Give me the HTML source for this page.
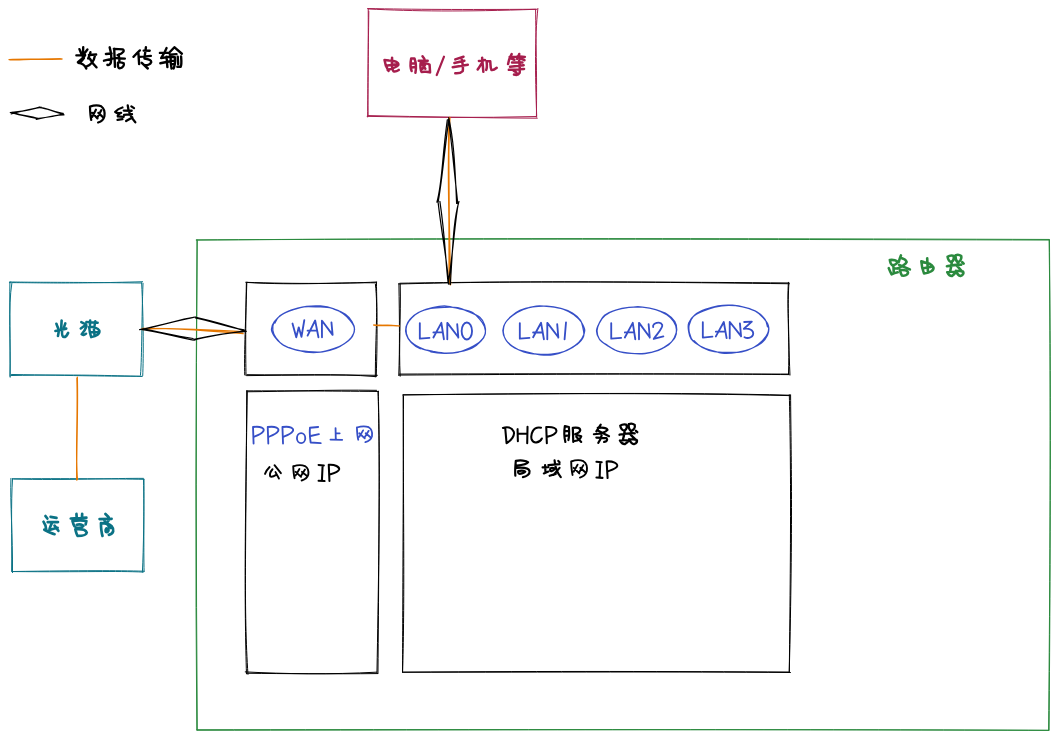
<!DOCTYPE html>
<html><head><meta charset="utf-8"><title>Router diagram</title>
<style>html,body{margin:0;padding:0;background:#fff;width:1059px;height:740px;overflow:hidden;font-family:"Liberation Sans",sans-serif}svg{display:block}</style>
</head><body><svg width="1059" height="740" viewBox="0 0 1059 740"><rect width="1059" height="740" fill="#ffffff"/><path fill="none" stroke="#2b8a3e" stroke-width="1.0" stroke-linecap="round" stroke-linejoin="round" d="M196.25 240.05 C422.22 238.26 648.08 238.23 1048.92 239.45 M196.54 239.95 C422.7 238.67 647.85 239.07 1049.29 240.05 M1049.48 239.72 C1050.35 376.24 1050.63 514.28 1048.57 730.11 M1049.09 239.91 C1050.98 376.51 1050.58 513.5 1049.12 729.95 M1048.74 730.38 C825.34 729.27 601.15 729.72 197.28 730.29 M1048.86 730.31 C824.71 729.62 601.24 729.4 196.79 729.71 M197.3 729.75 C196.05 566.67 195.85 402.96 197.25 240.59 M196.78 730.11 C195.35 566.68 195.84 403.44 197.01 239.86"/><path fill="none" stroke="#a61e4d" stroke-width="1.0" stroke-linecap="round" stroke-linejoin="round" d="M367.58 8.54 C412.92 9.45 462.29 9.73 535.59 9.25 M368.29 8.93 C414.35 11.31 461.98 11.85 536.98 9.25 M537.86 8.48 C534.8 38.93 535.03 70.34 536.69 116.24 M535.61 9.47 C535.84 40.13 537 70.78 536.42 117.19 M537.3 118.2 C481.04 117.92 422.89 116.76 368.13 115.6 M535.71 116.53 C479.17 118.03 422.4 117.35 367.14 116.36 M368.07 115.88 C367.73 87.1 368.18 56.91 368.82 11.18 M367.65 116.97 C367.89 86.91 368.4 57.95 368.23 9.06"/><path fill="none" stroke="#0b7285" stroke-width="1.0" stroke-linecap="round" stroke-linejoin="round" d="M9.37 282.64 C35.52 282.54 66.23 283.88 142.63 281.74 M10.29 281.97 C37.95 282.49 64.87 282.09 141.56 283 M143.02 283.27 C141.56 319.61 142.08 354.69 140.49 375.09 M141.61 282.81 C143.57 319.43 143.53 357.55 142.73 375.58 M141.05 376.2 C111.5 376.36 77.72 375.61 11.46 374.47 M142.26 376.46 C110.47 375.5 77.76 374.36 10.96 375.53 M10.18 377.23 C10.52 340.88 8.13 307.2 11.8 283.48 M9.93 376.32 C10.58 342.51 9.32 308.69 9.91 281.72"/><path fill="none" stroke="#0b7285" stroke-width="1.0" stroke-linecap="round" stroke-linejoin="round" d="M13.69 478.99 C65.7 480.43 114.97 478.14 143.34 478.37 M12.44 478.81 C64.05 478.39 116.95 478.84 143.93 479.33 M144.01 479.3 C143.95 512.31 143.61 548.01 142.41 572.16 M143.48 479.16 C144.3 514.35 143.51 549.31 144.09 571.65 M143.29 572.07 C114.9 570.78 86.77 572.19 12.12 571.56 M144.01 571.22 C115.25 570.44 85.8 570.49 13.01 571.52 M12.49 572.62 C12.85 535.22 9.97 501.91 10.93 478.37 M11.62 571.47 C12.05 537.47 10.8 502.58 12.56 478.63"/><path fill="none" stroke="#000000" stroke-width="1.0" stroke-linecap="round" stroke-linejoin="round" d="M247.45 282.47 C295.2 285.49 345.84 282.18 376.58 282.85 M245.74 282.31 C294.89 283.98 343.55 283.64 376.7 282.03 M375.41 284.35 C378.18 309.51 375.45 331.5 375.33 376.89 M376.43 282.21 C376.88 308.44 377.67 331.96 376.24 376.67 M375.38 376.6 C335.41 373.22 296.38 375.46 246.97 374.67 M377.37 375.31 C336.44 374.83 294.3 375.03 246.68 375.63 M244.75 374.92 C244.15 353.76 245.2 333.12 246.83 282.13 M246 375.48 C245.64 353.99 245.45 332.93 246.37 282.88"/><path fill="none" stroke="#000000" stroke-width="1.0" stroke-linecap="round" stroke-linejoin="round" d="M398.76 284 C492.05 281.41 585.69 281.17 789.21 283.75 M399.95 283.25 C492.59 281.66 585.07 281.31 789.06 282.98 M788.42 282.32 C786.75 305.46 789.9 325.48 788.5 374.18 M788.87 283.34 C787.73 303.99 787.94 325.72 789.96 375.08 M788.93 374.07 C691.93 374.07 595.22 373.44 399.51 374.08 M788.98 374.62 C692.09 373.6 594.66 373.9 399.25 375.08 M400.19 376.21 C398.6 346.29 400.98 317.57 400.22 283.86 M398.77 375.54 C399.82 347.24 399.51 319.59 398.92 283.44"/><path fill="none" stroke="#000000" stroke-width="1.0" stroke-linecap="round" stroke-linejoin="round" d="M247.84 391.77 C287.85 391.43 326.52 389.62 376.5 390.33 M246.58 390.87 C286.95 390.82 326 390.95 378.29 391.48 M378.01 391.59 C379.77 446.72 380 503.84 376.96 672.73 M378.28 391.14 C379.65 448.77 379.27 504.41 377.97 673.52 M376.65 672.17 C330.65 674.65 284.49 673.95 245.24 671.89 M377.63 673.58 C332.02 674.03 284.85 673.71 246.74 673.25 M247.97 674.37 C243.63 610.14 246.08 548.65 246.68 390.93 M246.45 673.84 C244.66 610.39 244.56 547.26 247.35 391.05"/><path fill="none" stroke="#000000" stroke-width="1.0" stroke-linecap="round" stroke-linejoin="round" d="M403.38 394.79 C544.68 393.51 683.36 392.37 789.58 395.21 M402.81 394.96 C543.56 393.32 684.88 392.95 789.84 395.62 M790.59 394.78 C791.03 456.91 792.96 519.45 789.26 671.62 M789.32 394.74 C790.81 457.76 791.09 519.85 789.29 671.51 M790.46 672.52 C673.51 671.53 556.92 672.26 403.09 672.21 M789.18 672.02 C672.71 671.52 556.11 670.97 402.57 672.2 M402.5 672.39 C404.59 608.72 403.6 546.5 403.14 395.04 M402.59 671.38 C402.67 610.09 403.11 546.69 403.5 395.91"/><path fill="none" stroke="#e67700" stroke-width="1.3" stroke-linecap="round" stroke-linejoin="round" d="M8.99 59.59 C23.32 58.82 38.64 59.59 62.04 59 M10.16 59.96 C25.01 59.61 39.28 58.43 60.44 58.95"/><path fill="none" stroke="#e67700" stroke-width="1.6" stroke-linecap="round" stroke-linejoin="round" d="M449.76 117.59 C447.79 154.67 448.39 192.64 450.45 284.72 M449.2 117.73 C447.77 156.09 449.58 192.8 449.14 282.8"/><path fill="none" stroke="#e67700" stroke-width="1.3" stroke-linecap="round" stroke-linejoin="round" d="M142.94 329.71 C168.88 327.09 196.56 329.86 243.18 333.61 M142.15 328.44 C170.42 328.57 198.04 328.85 243.05 331.77"/><path fill="none" stroke="#e67700" stroke-width="1.3" stroke-linecap="round" stroke-linejoin="round" d="M373.71 325.01 C384.55 326.65 391.55 324.1 398.68 325.97 M374.72 325.36 C384.2 324.88 392.7 325.74 399.33 325.93"/><path fill="none" stroke="#e67700" stroke-width="1.3" stroke-linecap="round" stroke-linejoin="round" d="M76.89 378.27 C78.17 414.83 75.13 454.4 77.46 479.54 M77.31 377.07 C78.2 415.06 76.11 454.08 76.77 480.09"/><path fill="none" stroke="#000000" stroke-width="1.2" stroke-linecap="round" stroke-linejoin="round" d="M448.72 117.56 C453.19 137.86 454.7 157.68 456.61 203.43 M448.37 119.22 C451.3 137.98 452.86 158.6 457.76 203.32 M459.02 201.45 C453.61 219.39 453.05 241.33 450.33 284.44 M458.3 203.29 C455.06 220.52 454.35 240.23 448.35 283.96 M448.04 282.11 C445.47 260.65 445.23 237.33 439.89 201.46 M448.87 284.21 C447 261.11 442.5 238.78 438.2 203.07 M436.9 202.11 C442.33 183.37 441.71 160.42 447.3 119.84 M438.01 202.8 C441.88 181.98 443.09 163.2 448.89 118.12"/><path fill="none" stroke="#000000" stroke-width="1.2" stroke-linecap="round" stroke-linejoin="round" d="M139.61 329.62 C161.21 325.7 179.61 319.38 193.65 317.42 M141.93 329.53 C159.31 324.66 177.7 321.27 195.18 316.99 M195.37 317.84 C212.26 321.24 230.78 327.89 244.15 329.83 M194.9 317.1 C212.08 321.03 231.44 326.41 246.27 331.41 M244.21 330.8 C225.78 333.66 203.37 337.04 194.28 340.16 M245.9 331.36 C225.27 333.11 205.11 336.96 194.01 339.4 M193.09 338.49 C177.18 335.89 156.63 331.41 142.78 328.82 M193.47 340.09 C175.95 336.56 156.53 331.77 141.71 329.34"/><path fill="none" stroke="#000000" stroke-width="1.2" stroke-linecap="round" stroke-linejoin="round" d="M10.28 112.51 C24.36 111.54 35.1 108.28 41.17 107.04 M11.12 113.94 C23.36 110.42 33.57 109.03 39.55 106.99 M40.32 107.69 C44.14 106.91 50 111.13 62.49 113.4 M39.53 107.67 C45.42 107.99 49.89 110.21 63.58 114.22 M63.21 113.31 C56.91 116.96 51.15 116.46 36.54 118.53 M64.08 114.79 C57.41 114.55 52.36 115.61 36.21 119.44 M38.23 118.67 C28.36 115.3 22.65 116.3 12.81 112.18 M37.2 118.59 C29.71 116.53 22.01 115.78 12.18 112.87"/><path fill="none" stroke="#364fc7" stroke-width="1.25" stroke-linecap="round" d="M274.85 323.11 C276.15 320.7 277.24 318 279.94 315.84 C282.64 313.69 287.15 311.7 291.05 310.18 C294.94 308.67 298.84 307.32 303.29 306.77 C307.75 306.22 313.06 306.65 317.77 306.88 C322.48 307.11 327.35 307.06 331.54 308.14 C335.72 309.22 339.79 311.32 342.88 313.36 C345.96 315.4 348.13 317.96 350.05 320.38 C351.98 322.79 354 325.24 354.41 327.86 C354.82 330.48 353.98 333.62 352.53 336.1 C351.08 338.58 348.5 340.68 345.7 342.74 C342.9 344.79 339.57 346.93 335.74 348.43 C331.9 349.94 327.23 351.24 322.69 351.77 C318.14 352.3 313.11 351.97 308.46 351.62 C303.81 351.27 298.95 350.73 294.76 349.65 C290.57 348.57 286.45 347.1 283.33 345.14 C280.21 343.18 277.79 340.4 276.04 337.91 C274.29 335.42 273.16 332.83 272.83 330.22 C272.49 327.62 272.85 324.72 274 322.28 M333.93 309.08 C338.18 310.38 342.43 312.29 345.43 314.37 C348.43 316.46 350.43 319.08 351.96 321.6 C353.48 324.12 354.64 326.9 354.55 329.51 C354.47 332.13 353.22 334.89 351.45 337.29 C349.69 339.69 346.91 342.02 343.97 343.92 C341.02 345.81 337.74 347.29 333.77 348.66 C329.8 350.03 324.83 351.57 320.16 352.13 C315.49 352.7 310.36 352.61 305.76 352.04 C301.17 351.48 296.55 350.08 292.58 348.76 C288.61 347.45 284.92 346.14 281.94 344.16 C278.97 342.18 276.48 339.36 274.72 336.88 C272.97 334.39 271.49 331.79 271.42 329.25 C271.36 326.7 272.61 324.03 274.34 321.61 C276.06 319.18 278.59 316.69 281.76 314.71 C284.94 312.72 289.3 311.08 293.39 309.71 C297.48 308.34 301.8 307.08 306.31 306.46 C310.83 305.84 315.9 305.6 320.48 305.99 C325.07 306.38 329.83 307.38 333.84 308.8"/><path fill="none" stroke="#364fc7" stroke-width="1.25" stroke-linecap="round" d="M430.62 351.45 C426.38 350.41 422.64 348.93 419.3 347.27 C415.96 345.6 412.72 343.75 410.58 341.47 C408.43 339.19 407.06 336.27 406.41 333.59 C405.77 330.91 405.82 328.02 406.72 325.4 C407.62 322.78 409.51 320.17 411.8 317.86 C414.1 315.55 417.03 313.24 420.47 311.51 C423.92 309.79 428.24 308.44 432.5 307.53 C436.76 306.61 441.5 305.78 446.02 306.02 C450.54 306.25 455.32 307.93 459.61 308.94 C463.89 309.96 468.4 310.42 471.73 312.11 C475.05 313.8 477.45 316.69 479.56 319.08 C481.68 321.48 483.5 323.9 484.43 326.46 C485.35 329.02 485.93 331.8 485.1 334.45 C484.26 337.1 481.95 340.11 479.4 342.33 C476.85 344.55 473.42 346.09 469.81 347.77 C466.21 349.44 462.06 351.41 457.77 352.36 C453.48 353.31 448.58 353.54 444.09 353.46 C439.59 353.39 435.08 352.9 430.81 351.91 M420.2 348.77 C416.49 347.21 413.55 345.01 411.24 342.63 C408.92 340.25 407.17 337.15 406.31 334.48 C405.44 331.81 405.42 329.17 406.05 326.62 C406.68 324.07 408.03 321.54 410.08 319.19 C412.14 316.85 414.93 314.34 418.37 312.55 C421.82 310.77 426.47 309.33 430.76 308.46 C435.05 307.58 439.6 307.43 444.11 307.3 C448.61 307.18 453.59 306.93 457.8 307.72 C462 308.5 465.68 310.43 469.35 312.03 C473.02 313.64 477.26 315.18 479.8 317.33 C482.34 319.47 483.67 322.22 484.6 324.91 C485.52 327.61 485.96 330.8 485.35 333.49 C484.74 336.17 483.11 338.63 480.94 341.02 C478.77 343.42 475.78 346.1 472.33 347.86 C468.89 349.63 464.58 350.73 460.25 351.62 C455.93 352.51 450.84 353.23 446.38 353.21 C441.92 353.18 437.74 352.3 433.51 351.49 C429.27 350.68 424.62 349.94 420.95 348.33"/><path fill="none" stroke="#364fc7" stroke-width="1.25" stroke-linecap="round" d="M576.73 344.64 C574.03 346.9 570.73 348.89 566.92 350.55 C563.1 352.22 558.27 353.93 553.83 354.63 C549.39 355.34 544.86 355.25 540.26 354.79 C535.66 354.34 530.51 353.02 526.24 351.89 C521.97 350.77 517.96 349.89 514.64 348.03 C511.33 346.17 508.21 343.28 506.33 340.74 C504.46 338.2 503.67 335.54 503.38 332.79 C503.09 330.04 503.38 326.92 504.6 324.23 C505.82 321.54 508.13 318.98 510.68 316.66 C513.23 314.33 516.22 311.91 519.9 310.28 C523.59 308.65 528.33 307.57 532.8 306.87 C537.26 306.18 542 305.85 546.68 306.11 C551.35 306.36 556.53 307.27 560.83 308.41 C565.13 309.55 569.19 310.96 572.47 312.95 C575.75 314.94 578.74 317.8 580.5 320.34 C582.26 322.87 582.51 325.48 583.01 328.17 C583.51 330.86 584.56 333.71 583.51 336.46 C582.47 339.21 579.58 342.41 576.74 344.67 M574.16 314.88 C577.06 316.95 579.27 319.17 581.04 321.77 C582.8 324.37 584.59 327.7 584.72 330.5 C584.86 333.3 583.48 336.05 581.86 338.56 C580.24 341.07 577.99 343.39 575.03 345.55 C572.06 347.71 568.05 350.08 564.07 351.52 C560.1 352.96 555.66 353.73 551.18 354.16 C546.69 354.6 541.76 354.53 537.17 354.14 C532.57 353.75 527.71 353.13 523.59 351.83 C519.47 350.53 515.47 348.43 512.45 346.33 C509.43 344.23 507.07 341.89 505.47 339.24 C503.87 336.6 502.82 333.26 502.83 330.47 C502.84 327.67 503.91 324.97 505.53 322.49 C507.16 320.01 509.71 317.74 512.59 315.6 C515.48 313.45 518.89 311.21 522.84 309.63 C526.79 308.06 531.78 306.62 536.29 306.14 C540.8 305.65 545.39 306.21 549.88 306.72 C554.37 307.23 559.14 307.79 563.21 309.19 C567.29 310.58 571.34 312.98 574.35 315.09"/><path fill="none" stroke="#364fc7" stroke-width="1.25" stroke-linecap="round" d="M599.3 339 C597.73 336.41 597.02 333.43 597.01 330.79 C597.01 328.15 597.93 325.69 599.27 323.15 C600.6 320.61 602.32 317.71 605.02 315.56 C607.71 313.4 611.46 311.57 615.43 310.23 C619.41 308.89 624.35 308.02 628.89 307.5 C633.43 306.98 638.21 306.75 642.66 307.11 C647.11 307.47 651.46 308.45 655.6 309.67 C659.74 310.89 664.3 312.46 667.5 314.43 C670.71 316.4 673.28 318.94 674.83 321.47 C676.37 324 676.85 326.9 676.76 329.61 C676.67 332.32 675.62 335.2 674.28 337.73 C672.94 340.25 671.46 342.66 668.71 344.76 C665.96 346.86 661.75 348.85 657.81 350.32 C653.87 351.79 649.48 353.05 645.05 353.57 C640.61 354.1 635.72 353.86 631.18 353.48 C626.64 353.09 621.77 352.62 617.8 351.26 C613.83 349.9 610.44 347.37 607.36 345.33 C604.29 343.29 601.05 341.43 599.37 339.03 M642.49 307.18 C646.99 307.55 651.69 308.31 655.74 309.56 C659.79 310.81 663.82 312.74 666.79 314.7 C669.76 316.66 671.96 318.86 673.56 321.32 C675.17 323.77 676.19 326.72 676.43 329.41 C676.67 332.09 676.45 334.86 675.02 337.44 C673.59 340.02 670.64 342.7 667.86 344.86 C665.09 347.02 662.17 348.98 658.36 350.39 C654.55 351.81 649.52 352.84 645.01 353.35 C640.51 353.86 635.91 353.82 631.35 353.46 C626.8 353.09 621.63 352.46 617.66 351.15 C613.69 349.85 610.54 347.62 607.52 345.63 C604.5 343.65 601.35 341.7 599.52 339.26 C597.68 336.81 596.52 333.71 596.51 330.97 C596.5 328.23 598.11 325.43 599.46 322.81 C600.8 320.2 601.87 317.41 604.59 315.29 C607.31 313.17 611.72 311.4 615.78 310.08 C619.84 308.76 624.51 307.88 628.94 307.38 C633.36 306.88 637.85 306.7 642.33 307.06"/><path fill="none" stroke="#364fc7" stroke-width="1.25" stroke-linecap="round" d="M693.19 341.21 C691.09 338.86 690.16 335.75 689.49 333.09 C688.82 330.42 688.52 327.96 689.15 325.22 C689.77 322.48 690.95 318.97 693.24 316.64 C695.52 314.3 699.3 312.81 702.87 311.23 C706.44 309.64 710.42 308.11 714.67 307.13 C718.92 306.15 723.71 305.38 728.37 305.34 C733.03 305.29 738.2 305.9 742.65 306.84 C747.09 307.78 751.64 309.2 755.04 310.98 C758.43 312.76 760.8 315.13 763.01 317.54 C765.22 319.95 767.49 322.82 768.28 325.43 C769.07 328.04 768.7 330.69 767.73 333.22 C766.76 335.76 764.8 338.28 762.44 340.64 C760.08 343.01 757.01 345.56 753.57 347.43 C750.12 349.29 745.99 350.99 741.77 351.82 C737.55 352.65 732.82 352.42 728.25 352.4 C723.67 352.39 718.66 352.54 714.33 351.72 C710.01 350.9 705.66 349.31 702.27 347.48 C698.89 345.65 696.15 343.13 694.02 340.74 M768.66 326.79 C769.08 329.47 768.71 332.61 767.51 335.32 C766.31 338.03 764.14 340.85 761.46 343.04 C758.78 345.24 755.25 346.95 751.4 348.46 C747.56 349.98 742.9 351.29 738.39 352.11 C733.88 352.93 728.88 353.66 724.35 353.37 C719.81 353.07 715.21 351.58 711.17 350.35 C707.12 349.11 703.41 347.85 700.08 345.96 C696.75 344.07 693.11 341.47 691.21 339 C689.3 336.53 689.04 333.81 688.62 331.13 C688.21 328.45 687.65 325.64 688.72 322.91 C689.79 320.18 692.29 317.01 695.04 314.76 C697.79 312.52 701.39 310.92 705.22 309.43 C709.06 307.94 713.51 306.52 718.04 305.81 C722.57 305.11 727.8 304.91 732.41 305.22 C737.02 305.52 741.56 306.5 745.69 307.65 C749.81 308.79 753.92 310.13 757.15 312.08 C760.37 314.02 763.32 316.85 765.04 319.31 C766.76 321.77 767.01 324.11 767.47 326.83"/><path fill="none" stroke="#000000" stroke-width="2.4" stroke-linecap="round" stroke-linejoin="round" d="M 79.42 49.13 L 81.32 53.78 M 83.22 47.19 L 82.84 56.49 M 87.4 49.51 L 84.36 53.39 M 76.38 55.33 L 85.12 54.94 M 85.12 55.33 C 82.84 58.43 79.42 61.15 77.9 62.31 M 83.98 58.04 C 81.32 61.53 79.42 63.86 78.28 62.7 C 81.32 63.08 85.12 65.41 86.26 68.51 M 90.44 52.23 C 89.68 55.33 88.92 56.88 88.16 58.43 M 88.92 54.94 L 96.14 54.55 M 95 55.33 C 94.24 59.98 91.58 64.64 86.26 66.57 M 89.68 58.43 C 91.58 61.92 93.86 65.02 96.52 67.35"/><path fill="none" stroke="#000000" stroke-width="2.4" stroke-linecap="round" stroke-linejoin="round" d="M 105.87 54 L 111.56 53.48 M 109.66 47.31 C 111.18 52.45 111.56 59.13 110.8 62.73 C 110.04 64.79 108.53 65.3 107.39 64.79 M 103.98 60.68 L 112.69 58.62 M 113.83 48.86 L 122.93 49.37 C 124.44 50.4 124.06 52.97 117.62 55.02 M 114.21 48.86 L 114.97 66.84 M 116.11 58.11 L 124.82 58.62 M 118.76 54.51 L 119.52 62.22 M 118 62.73 C 117.62 66.33 118.38 68.39 119.52 68.39 C 122.93 67.87 124.44 65.3 123.68 63.25 C 121.41 62.22 119.52 62.22 118 62.73"/><path fill="none" stroke="#000000" stroke-width="2.4" stroke-linecap="round" stroke-linejoin="round" d="M 139.9 50.42 C 137.63 52.43 135.37 54.84 133.48 56.85 M 138.39 52.83 L 139.14 64.08 M 143.67 50.62 L 149.71 50.82 M 145.94 47.2 L 144.43 58.05 M 139.52 56.85 L 150.84 55.84 M 144.43 58.45 C 147.82 58.85 151.22 60.06 151.22 62.07 C 150.47 64.48 146.69 65.28 145.18 65.28 M 141.78 62.87 L 147.82 68.5"/><path fill="none" stroke="#000000" stroke-width="2.4" stroke-linecap="round" stroke-linejoin="round" d="M 159.91 52.87 L 169.45 52.65 M 166.55 48.1 C 164.89 52.43 161.99 56.77 161.16 58.07 L 169.86 56.77 M 166.55 56.77 L 167.38 67.17 M 160.33 63.27 L 169.03 61.53 M 174.42 47.23 C 172.35 49.4 170.69 51.13 169.86 52 M 174.84 47.67 L 181.89 53.73 M 169.86 54.6 L 176.5 54.17 M 170.69 56.77 C 170.28 61.1 170.69 64.13 171.52 68.47 M 170.69 56.77 L 174.84 57.2 C 175.25 61.97 174.84 65.87 173.59 68.47 M 171.11 60.67 L 174.84 61.1 M 171.11 64.13 L 174.84 64.13 M 177.74 56.77 L 178.15 64.13 M 181.06 56.33 C 181.47 61.53 181.89 65 180.64 66.73 L 177.33 66.73"/><path fill="none" stroke="#000000" stroke-width="2.2" stroke-linecap="round" stroke-linejoin="round" d="M 89.98 106.64 C 90.12 111.88 90.56 116.8 91.28 119.91 M 89.98 106.64 C 93.45 105.33 98.36 105 101.25 106.31 C 104.14 108.28 105.01 111.88 104.43 116.14 C 103.57 119.75 100.67 121.72 98.07 122.54 M 95.9 109.75 L 92.29 116.8 M 92.29 112.87 L 97.49 118.44 M 101.25 110.24 L 97.21 117.78 M 98.36 112.87 L 103.57 117.78"/><path fill="none" stroke="#000000" stroke-width="2.3" stroke-linecap="round" stroke-linejoin="round" d="M 122.44 107.49 C 119.47 108.31 116.5 110.26 115.18 111.89 C 116.5 113.2 118.15 113.52 121.12 112.87 M 120.79 112.87 C 118.81 113.85 117.49 115.15 117.82 116.46 L 123.76 116.78 M 117.49 119.88 L 122.44 119.23 M 123.76 110.59 L 131.69 110.75 M 124.09 114.83 L 132.02 114.18 M 127.73 105.38 C 128.06 109.61 129.05 115.15 135.32 122.32 M 132.35 117.44 L 126.08 121.02 M 131.36 106.35 L 134 108.15"/><path fill="none" stroke="#a61e4d" stroke-width="2.5" stroke-linecap="round" stroke-linejoin="round" d="M 384.5 59.97 C 384.94 64.5 386.73 68.12 388.52 70.84 M 384.5 59.97 L 388.97 60.42 C 394.33 60.42 398.8 62.23 398.36 64.95 C 397.01 67.22 394.33 68.12 387.63 69.94 M 385.84 65.86 L 398.36 64.05 M 392.1 57.7 C 391.65 63.59 391.65 69.03 393.44 71.3 C 395.23 71.75 397.46 70.84 398.8 69.94"/><path fill="none" stroke="#a61e4d" stroke-width="2.5" stroke-linecap="round" stroke-linejoin="round" d="M 411.17 58.44 C 410.22 63.38 410.7 68.76 411.64 71.01 M 411.17 58.44 L 414.48 58.44 C 415.9 62.48 416.37 67.87 415.42 72.8 M 411.64 63.38 L 414.95 63.38 M 411.64 67.42 L 415.42 66.97 M 422.51 56.2 L 424.4 58.89 M 418.73 60.69 L 427.71 60.69 M 420.62 62.93 C 420.15 66.97 420.62 70.11 421.57 71.9 C 425.35 71.9 428.19 71.46 430.08 72.35 M 420.62 62.93 C 425.35 62.93 428.19 63.38 429.6 64.72 L 430.08 72.35 M 422.51 64.72 L 425.35 68.76 M 425.35 64.28 L 422.51 68.76"/><path fill="none" stroke="#a61e4d" stroke-width="2.5" stroke-linecap="round" stroke-linejoin="round" d="M 455.28 59.43 L 463.49 56.7 M 454.41 63.07 L 464.36 60.8 M 452.68 67.16 L 467.82 64.66 M 461.76 58.98 C 462.63 63.52 463.49 68.98 462.63 71.25 C 460.9 73.07 457.87 73.52 455.28 73.3"/><path fill="none" stroke="#a61e4d" stroke-width="2.5" stroke-linecap="round" stroke-linejoin="round" d="M 478.87 60.89 L 484.97 59.98 M 482.12 57.7 L 483.34 71.8 M 482.53 61.8 C 480.91 64.52 479.28 67.25 477.66 69.52 M 486.59 61.34 C 487 64.52 487 68.16 486.18 69.98 M 486.59 61.34 L 490.25 61.34 C 490.65 64.98 490.25 68.16 491.46 69.98 C 493.09 70.43 495.12 69.07 496.74 67.7"/><path fill="none" stroke="#a61e4d" stroke-width="2.5" stroke-linecap="round" stroke-linejoin="round" d="M 511.65 54.02 C 509.65 57.5 508.45 60.59 508.05 64.06 M 509.65 57.11 L 516.05 56.92 M 510.85 58.27 L 514.45 59.82 M 519.25 54.02 L 517.25 59.04 M 517.65 56.34 L 524.85 56.92 M 520.05 58.27 L 524.45 60.2 M 512.05 62.52 L 522.45 62.52 M 519.25 60.59 C 519.65 65.99 520.05 69.86 519.65 72.95 C 518.45 74.88 516.45 75.26 514.05 74.49 M 510.05 66.77 L 523.65 65.22 M 508.85 69.86 L 524.05 68.89 M 513.65 70.63 L 516.45 72.56"/><path fill="none" stroke="#a61e4d" stroke-width="2.2" stroke-linecap="round" d="M444 56.7 L436.7 75.1"/><path fill="none" stroke="#2b8a3e" stroke-width="2.6" stroke-linecap="round" stroke-linejoin="round" d="M 889.83 259.95 C 890.19 262.83 890.9 264.47 892.33 265.29 M 889.83 259.95 C 893.4 259.54 896.98 260.36 897.33 262 C 896.98 263.65 894.83 264.88 892.33 265.29 M 893.4 265.29 L 893.76 272.7 M 894.48 268.17 L 897.33 268.58 M 888.76 268.17 C 889.83 271.05 890.9 273.11 891.62 274.34 C 893.4 273.52 895.9 272.7 897.69 272.29 M 900.91 255.42 C 899.84 257.89 899.12 260.36 898.76 262 M 901.27 257.89 C 904.12 258.71 906.27 260.36 906.63 262 C 905.55 264.47 902.7 266.12 898.41 268.17 M 899.12 264.88 L 909.84 269.41 M 899.84 269.82 C 900.55 272.7 901.27 274.75 901.98 275.58 C 904.84 275.99 907.7 274.75 908.06 272.7 C 908.06 270.64 904.12 269.82 899.84 269.82"/><path fill="none" stroke="#2b8a3e" stroke-width="2.6" stroke-linecap="round" stroke-linejoin="round" d="M 921.29 261.23 C 921.64 265.81 922.33 269.62 924.06 273.44 M 921.29 261.23 L 923.72 262 M 923.72 262.38 C 927.87 262.76 931.68 264.28 933.41 267.33 C 934.1 270.39 930.29 272.67 924.06 273.44 M 927.18 258.18 L 927.87 271.15 M 922.68 268.48 C 926.14 267.72 928.91 266.95 930.98 266.95"/><path fill="none" stroke="#2b8a3e" stroke-width="2.6" stroke-linecap="round" stroke-linejoin="round" d="M 947.64 256.86 C 947.99 259.49 949.72 261.74 951.46 262.12 C 953.89 260.24 954.24 257.61 953.19 255.73 C 951.46 255.35 949.03 255.73 947.64 256.86 M 955.62 255.35 C 955.28 258.73 955.97 260.99 957.71 262.49 C 960.14 261.37 961.87 258.73 961.18 256.1 C 959.44 254.6 957.01 254.6 955.62 255.35 M 962.22 262.12 L 963.61 263.62 M 946.95 266.25 C 952.5 265.12 957.71 264.37 961.18 264.75 M 951.81 261.74 C 951.46 265.5 950.76 269.26 950.07 271.51 M 957.36 266.25 C 959.44 268.51 961.52 270.76 962.56 272.27 M 947.29 272.27 C 948.34 274.52 950.07 276.02 951.81 276.02 C 954.24 274.52 955.28 273.02 955.62 272.27 C 952.5 271.51 949.38 271.7 947.29 272.27 M 955.97 270.76 C 957.01 273.77 958.4 275.65 960.48 276.02 C 963.26 275.27 963.95 273.02 962.91 271.51 C 960.48 270.76 957.71 270.76 955.97 270.76"/><path fill="none" stroke="#0b7285" stroke-width="2.6" stroke-linecap="round" stroke-linejoin="round" d="M 56.37 323.71 C 57.01 325.82 57.65 327.22 58.29 328.62 M 61.63 320.55 L 61.15 328.98 M 65.3 323.36 L 63.86 327.57 M 55.42 330.91 L 66.25 328.62 M 58.92 329.68 C 58.76 332.13 58.29 334.24 57.97 336 M 62.11 330.03 C 61.79 333.54 62.11 336.7 64.02 337.05 C 65.61 337.05 67.21 334.94 68.16 332.84"/><path fill="none" stroke="#0b7285" stroke-width="2.5" stroke-linecap="round" stroke-linejoin="round" d="M 81.27 322.02 L 86.22 324.56 L 80.76 328.46 M 86.57 326.26 C 85.37 329.65 83.32 332.36 81.62 334.23 C 82.64 335.41 84.69 335.08 86.05 333.72 M 86.39 322.02 L 97.66 322.69 M 90.15 320.49 L 89.98 325.24 M 95.27 321.17 L 94.59 325.58 M 89.13 326.93 C 89.47 330.67 90.15 334.4 91.17 337.11 M 89.13 326.93 C 92.88 326.6 98 327.95 99.37 330.67 C 100.05 333.72 96.64 336.09 91.17 337.11 M 93.91 328.97 L 94.59 336.09 M 90.15 332.02 L 98.68 332.36"/><path fill="none" stroke="#0b7285" stroke-width="2.7" stroke-linecap="round" stroke-linejoin="round" d="M 45.43 515.99 L 47.34 518.57 M 50.57 516.85 L 56.47 517.92 M 47.72 522.21 L 57.99 522.13 M 43.53 521.78 C 45.05 523.93 46.19 526.93 46.19 529.5 M 44.29 529.72 C 48.1 531.65 51.52 533.36 54.56 534.22 M 51.9 523.07 C 50.76 525.64 49.62 528.22 49.43 529.93 C 52.66 529.07 55.71 528.22 57.61 527.79 M 54.56 525.64 L 58.37 530.79"/><path fill="none" stroke="#0b7285" stroke-width="2.7" stroke-linecap="round" stroke-linejoin="round" d="M 70.75 518.52 L 86.39 517.7 M 76.47 513.96 L 76.85 520.6 M 82.19 513.96 L 81.81 519.35 M 72.47 520.8 C 73.04 523.08 73.8 525.16 74.56 526.4 M 72.47 520.8 C 79.14 520.18 84.86 520.6 86.39 521.01 L 85.62 524.33 M 76.85 524.74 C 79.9 523.91 82.95 524.74 83.34 525.99 C 82.19 527.64 79.14 528.06 76.28 527.64 M 75.33 529.3 C 76.09 532.62 76.85 535.11 77.62 535.94 M 75.33 529.3 C 81.05 528.89 86.01 530.13 86.77 532.62 C 86.39 534.69 82.19 535.94 77.62 535.94"/><path fill="none" stroke="#0b7285" stroke-width="2.7" stroke-linecap="round" stroke-linejoin="round" d="M 105.43 513.93 L 108.52 516.97 M 99.59 519.06 L 111.6 518.87 M 104.05 519.63 L 105.43 522.29 M 109.2 519.63 L 107.83 521.53 M 100.97 523.05 C 100.97 527.23 101.31 532.17 102.51 535.97 M 100.97 523.05 C 105.08 523.05 109.55 523.81 111.6 526.09 C 114.35 529.13 114.01 533.69 108.86 534.83 M 107.83 525.33 L 110.92 527.99 M 106.46 528.37 C 105.08 530.27 105.43 532.17 106.8 532.17 C 108.52 531.41 109.2 529.89 107.83 528.37"/><path fill="none" stroke="#364fc7" stroke-width="1.85" stroke-linecap="round" stroke-linejoin="round" d="M 292.49 323.55 L 296.26 337.25 L 298.76 327.33 L 301.46 336.77 L 304.29 320.25 M 307.59 335.59 L 315.15 320.49 L 318.45 337.25 M 307.59 330.64 L 316.33 330.4 M 321.9 320.72 L 321.99 337.25 M 322.23 320.96 L 332.62 334.89 M 331.44 322.37 L 332.62 334.89"/><path fill="none" stroke="#364fc7" stroke-width="1.85" stroke-linecap="round" stroke-linejoin="round" d="M 419.82 323.1 L 419.82 338.68 L 429.45 337.83 M 433.41 337.55 L 441.35 322.82 L 443.9 339.25 M 433.41 332.45 L 442.48 332.16 M 447.29 322.82 L 447.29 339.25 M 447.58 323.1 L 458.34 337.26 M 457.21 324.23 L 458.34 337.55"/><ellipse cx="466.84" cy="331.03" rx="5.21" ry="8.5" fill="none" stroke="#364fc7" stroke-width="1.85"/><path fill="none" stroke="#364fc7" stroke-width="1.85" stroke-linecap="round" stroke-linejoin="round" d="M 519.82 323.1 L 519.82 338.68 L 529.45 337.83 M 533.13 337.26 L 541.06 322.82 L 543.9 339.25 M 533.13 332.45 L 542.48 332.45 M 547.29 322.82 L 547.29 339.25 M 547.58 323.1 L 558.34 337.26 M 557.21 324.23 L 558.34 337.55 M 565.99 322.53 L 564.58 339.25"/><path fill="none" stroke="#364fc7" stroke-width="1.85" stroke-linecap="round" stroke-linejoin="round" d="M 611.23 323.1 L 611.23 338.68 L 621.15 337.83 M 624.83 337.55 L 632.76 322.82 L 635.31 339.25 M 624.83 332.45 L 633.9 332.16 M 638.99 322.82 L 638.99 339.25 M 639.28 323.1 L 649.76 337.26 M 648.63 324.23 L 649.76 337.55 M 653.16 327.07 C 652.03 323.1 660.52 320.83 662.22 324.8 C 663.36 328.2 655.99 335 653.73 338.96 L 663.36 336.41"/><path fill="none" stroke="#364fc7" stroke-width="1.85" stroke-linecap="round" stroke-linejoin="round" d="M 702.82 322.25 L 702.82 337.55 L 712.45 336.7 M 715.85 336.41 L 723.78 321.97 L 726.61 338.11 M 715.85 331.6 L 725.2 331.31 M 729.73 321.97 L 729.73 338.4 M 730.01 322.25 L 741.06 336.13 M 739.93 323.38 L 741.06 336.41 M 744.18 321.97 L 751.82 321.68 L 743.89 328.76 C 754.09 327.63 755.22 335 750.69 337.26 C 747.86 338.68 745.59 337.83 744.46 337.26"/><path fill="none" stroke="#364fc7" stroke-width="1.85" stroke-linecap="round" stroke-linejoin="round" d="M 253.59 443.54 L 253.02 427.03 C 260.77 425.95 265.08 428.1 263.28 431.33 C 261.49 434.2 257.18 435.64 254.31 436.72 M 268.31 443.54 L 267.73 427.03 C 275.48 425.95 279.79 428.1 278 431.33 C 276.2 434.2 271.9 435.64 269.02 436.72 M 283.02 443.54 L 282.45 427.03 C 290.2 425.95 294.51 428.1 292.71 431.33 C 290.92 434.2 286.61 435.64 283.74 436.72 M 318.2 427.03 L 309.94 427.74 C 309.58 432.77 309.94 438.51 310.66 442.46 L 320.71 443.18 M 310.66 436 L 318.92 434.2"/><ellipse cx="301.11" cy="438.15" rx="4.16" ry="5.03" fill="none" stroke="#364fc7" stroke-width="1.85"/><path fill="none" stroke="#364fc7" stroke-width="1.8" stroke-linecap="round" stroke-linejoin="round" d="M 335.55 428.1 L 335.78 439.32 M 336.01 433.35 L 339.68 433.35 M 330.5 439.56 L 342.2 439.8"/><path fill="none" stroke="#364fc7" stroke-width="1.8" stroke-linecap="round" stroke-linejoin="round" d="M 356.9 427.51 C 357.05 432.34 357.51 436.87 358.26 439.73 M 356.9 427.51 C 360.53 426.3 365.66 426 368.67 427.21 C 371.69 429.02 372.6 432.34 371.99 436.26 C 371.09 439.58 368.07 441.39 365.35 442.15 M 363.09 430.38 L 359.32 436.87 M 359.32 433.24 L 364.75 438.38 M 368.67 430.83 L 364.45 437.77 M 365.66 433.24 L 371.09 437.77"/><path fill="none" stroke="#000000" stroke-width="1.9" stroke-linecap="round" stroke-linejoin="round" d="M 269.59 467.05 C 267.3 469.25 265.99 471.46 265.01 473.97 M 274.51 465.16 L 280.89 473.19 M 272.54 469.25 C 270.57 471.46 269.59 474.6 270.25 476.49 C 271.56 477.12 274.51 475.86 276.47 474.6 M 275.49 472.09 L 278.93 478.54"/><path fill="none" stroke="#000000" stroke-width="1.9" stroke-linecap="round" stroke-linejoin="round" d="M 293.25 466.31 C 293.4 470.99 293.85 475.38 294.6 478.16 M 293.25 466.31 C 296.85 465.14 301.95 464.85 304.95 466.02 C 307.95 467.78 308.85 470.99 308.25 474.8 C 307.35 478.02 304.35 479.77 301.65 480.5 M 299.4 469.09 L 295.65 475.38 M 295.65 471.87 L 301.05 476.85 M 304.95 469.53 L 300.75 476.26 M 301.95 471.87 L 307.35 476.26"/><path fill="none" stroke="#000000" stroke-width="2.0500000000000003" stroke-linecap="round" stroke-linejoin="round" d="M 318.57 464.92 L 323.83 465.44 M 322.61 465.44 L 321.9 480.72 M 318.57 480.72 L 324.54 481.07 M 329.45 481.07 L 328.75 464.74 C 335.07 464.21 339.64 467.02 339.11 469.48 C 338.24 471.94 333.67 473.35 330.51 474.23"/><path fill="none" stroke="#000000" stroke-width="2.0500000000000003" stroke-linecap="round" stroke-linejoin="round" d="M 502.93 427.98 C 507.03 426.51 511.71 427.1 513.76 431.78 C 514.93 435.3 511.71 439.98 506.73 443.2 M 505.27 428.56 L 506.56 443.2 M 517.56 429.15 L 517.86 441.15 M 527.52 426.81 L 527.22 443.2 M 517.86 433.83 L 527.22 433.54 M 540.98 427.68 C 532.79 425.93 530.44 434.71 531.62 439.39 C 533.37 444.08 539.81 442.91 541.86 438.52 M 546.84 443.2 L 546.25 427.1 C 552.69 426.51 557.38 428.27 556.21 431.78 C 555.04 434.71 550.35 435.88 547.42 436.76"/><path fill="none" stroke="#000000" stroke-width="2.2" stroke-linecap="round" stroke-linejoin="round" d="M 564.88 426.04 C 563.89 432.11 564.39 438.19 565.38 441.93 M 564.88 426.04 L 568.84 426.97 C 569.34 432.11 569.34 436.79 568.35 440.06 M 565.38 431.18 L 568.84 431.18 M 565.38 435.85 L 568.84 435.39 M 572.8 427.91 L 573.29 441.93 M 572.8 427.91 C 576.75 426.97 580.22 427.91 580.22 430.24 C 579.72 432.58 577.25 433.52 575.27 433.98 M 575.27 434.45 L 581.21 436.32 C 580.22 439.13 578.24 440.53 574.78 441 M 576.26 436.79 L 581.21 441.93"/><path fill="none" stroke="#000000" stroke-width="2.2" stroke-linecap="round" stroke-linejoin="round" d="M 600.72 424.58 L 596.33 431.34 M 597.79 427.96 C 601.69 427.48 606.57 427.96 607.55 429.89 C 605.6 432.3 600.72 433.75 593.89 434.23 M 598.28 430.86 L 609.01 436.16 M 596.33 437.61 L 606.57 438.09 C 608.04 440.02 606.57 441.47 604.13 441.95 M 601.69 435.2 C 600.72 439.06 599.74 440.99 598.28 442.92"/><path fill="none" stroke="#000000" stroke-width="2.3" stroke-linecap="round" stroke-linejoin="round" d="M 620.26 425.63 C 620.63 428.18 622.49 430.36 624.34 430.73 C 626.93 428.91 627.3 426.36 626.19 424.54 C 624.34 424.18 621.74 424.54 620.26 425.63 M 628.79 424.18 C 628.41 427.45 629.16 429.63 631.01 431.09 C 633.6 430 635.46 427.45 634.71 424.91 C 632.86 423.45 630.27 423.45 628.79 424.18 M 635.83 430.73 L 637.31 432.18 M 619.52 434.73 C 625.45 433.64 631.01 432.91 634.71 433.27 M 624.71 430.36 C 624.34 434 623.6 437.64 622.86 439.82 M 630.64 434.73 C 632.86 436.91 635.09 439.09 636.2 440.55 M 619.89 440.55 C 621 442.73 622.86 444.19 624.71 444.19 C 627.3 442.73 628.41 441.28 628.79 440.55 C 625.45 439.82 622.11 440 619.89 440.55 M 629.16 439.09 C 630.27 442 631.75 443.82 633.97 444.19 C 636.94 443.46 637.68 441.28 636.57 439.82 C 633.97 439.09 631.01 439.09 629.16 439.09"/><path fill="none" stroke="#000000" stroke-width="2.2" stroke-linecap="round" stroke-linejoin="round" d="M 515.82 460.93 C 515.35 465.56 514.87 471.12 515.35 475.75 M 515.82 460.93 C 520.08 460 526.24 460.46 528.13 462.32 C 527.19 464.17 522.45 465.09 516.77 465.56 M 516.77 467.87 C 522.45 467.41 528.61 467.87 529.55 471.12 C 530.03 473.89 526.71 476.67 522.92 477.14 M 518.19 471.12 C 517.71 472.51 518.66 473.89 519.61 473.89 C 522.45 473.43 524.82 472.51 525.29 471.58 C 523.87 470.65 520.08 470.65 518.19 471.12"/><path fill="none" stroke="#000000" stroke-width="2.2" stroke-linecap="round" stroke-linejoin="round" d="M 542.61 467.41 L 548.4 467.18 M 545.09 465.09 L 545.5 472.51 M 543.85 473.43 L 548.4 471.58 M 548.4 465.09 L 559.55 464.17 M 554.59 460.46 C 555 466.48 556.66 472.04 560.79 477.14 M 558.31 460.93 L 559.55 462.32 M 550.46 468.34 C 549.63 470.19 550.46 471.58 551.7 471.12 C 553.77 470.19 554.59 469.26 554.18 468.34 C 552.94 467.87 551.29 467.87 550.46 468.34 M 549.63 475.75 L 555.83 473.89 M 559.55 467.87 L 553.77 474.82"/><path fill="none" stroke="#000000" stroke-width="1.9" stroke-linecap="round" stroke-linejoin="round" d="M 571.18 461.51 C 571.33 466.81 571.8 471.78 572.58 474.93 M 571.18 461.51 C 574.93 460.18 580.24 459.85 583.37 461.18 C 586.5 463.16 587.44 466.81 586.81 471.12 C 585.87 474.77 582.75 476.76 579.93 477.58 M 577.59 464.66 L 573.68 471.78 M 573.68 467.81 L 579.31 473.44 M 583.37 465.15 L 578.99 472.78 M 580.24 467.81 L 585.87 472.78"/><path fill="none" stroke="#000000" stroke-width="2.0500000000000003" stroke-linecap="round" stroke-linejoin="round" d="M 596.43 461.81 L 601.72 462.19 M 600.21 462.19 L 599.64 477.69 M 596.43 477.5 L 602.48 477.88 M 607.59 478.07 L 606.64 461.43 C 613.45 461.05 617.61 463.32 617.23 465.97 C 616.48 468.62 611.18 470.13 607.97 471.26"/></svg></body></html>
